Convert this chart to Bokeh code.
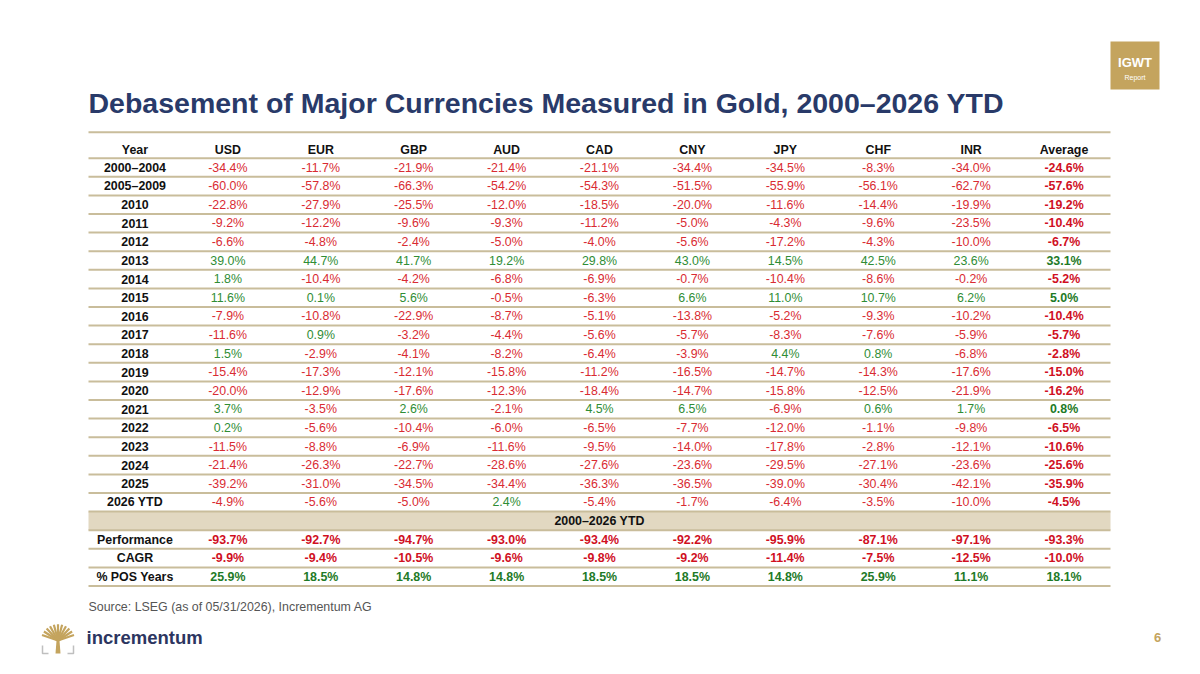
import math
from bokeh.plotting import figure
from bokeh.models import Range1d, ColumnDataSource
from bokeh.core.properties import value
from bokeh.embed import file_html
from bokeh.resources import INLINE

# ---------------- data ----------------
title_text = "Debasement of Major Currencies Measured in Gold, 2000–2026 YTD"
source_text = "Source: LSEG (as of 05/31/2026), Incrementum AG"
columns = ["Year", "USD", "EUR", "GBP", "AUD", "CAD", "CNY", "JPY", "CHF", "INR", "Average"]
row_labels = ["2000–2004", "2005–2009", "2010", "2011", "2012", "2013", "2014", "2015",
              "2016", "2017", "2018", "2019", "2020", "2021", "2022", "2023", "2024",
              "2025", "2026 YTD"]
usd = [-34.4, -60.0, -22.8, -9.2, -6.6, 39.0, 1.8, 11.6, -7.9, -11.6, 1.5, -15.4, -20.0, 3.7, 0.2, -11.5, -21.4, -39.2, -4.9]
eur = [-11.7, -57.8, -27.9, -12.2, -4.8, 44.7, -10.4, 0.1, -10.8, 0.9, -2.9, -17.3, -12.9, -3.5, -5.6, -8.8, -26.3, -31.0, -5.6]
gbp = [-21.9, -66.3, -25.5, -9.6, -2.4, 41.7, -4.2, 5.6, -22.9, -3.2, -4.1, -12.1, -17.6, 2.6, -10.4, -6.9, -22.7, -34.5, -5.0]
aud = [-21.4, -54.2, -12.0, -9.3, -5.0, 19.2, -6.8, -0.5, -8.7, -4.4, -8.2, -15.8, -12.3, -2.1, -6.0, -11.6, -28.6, -34.4, 2.4]
cad = [-21.1, -54.3, -18.5, -11.2, -4.0, 29.8, -6.9, -6.3, -5.1, -5.6, -6.4, -11.2, -18.4, 4.5, -6.5, -9.5, -27.6, -36.3, -5.4]
cny = [-34.4, -51.5, -20.0, -5.0, -5.6, 43.0, -0.7, 6.6, -13.8, -5.7, -3.9, -16.5, -14.7, 6.5, -7.7, -14.0, -23.6, -36.5, -1.7]
jpy = [-34.5, -55.9, -11.6, -4.3, -17.2, 14.5, -10.4, 11.0, -5.2, -8.3, 4.4, -14.7, -15.8, -6.9, -12.0, -17.8, -29.5, -39.0, -6.4]
chf = [-8.3, -56.1, -14.4, -9.6, -4.3, 42.5, -8.6, 10.7, -9.3, -7.6, 0.8, -14.3, -12.5, 0.6, -1.1, -2.8, -27.1, -30.4, -3.5]
inr = [-34.0, -62.7, -19.9, -23.5, -10.0, 23.6, -0.2, 6.2, -10.2, -5.9, -6.8, -17.6, -21.9, 1.7, -9.8, -12.1, -23.6, -42.1, -10.0]
average = [-24.6, -57.6, -19.2, -10.4, -6.7, 33.1, -5.2, 5.0, -10.4, -5.7, -2.8, -15.0, -16.2, 0.8, -6.5, -10.6, -25.6, -35.9, -4.5]

summary_label = "2000–2026 YTD"
summary_rows = ["Performance", "CAGR", "% POS Years"]
performance = [-93.7, -92.7, -94.7, -93.0, -93.4, -92.2, -95.9, -87.1, -97.1, -93.3]
cagr = [-9.9, -9.4, -10.5, -9.6, -9.8, -9.2, -11.4, -7.5, -12.5, -10.0]
pos_years = [25.9, 18.5, 14.8, 14.8, 18.5, 18.5, 14.8, 25.9, 11.1, 18.1]

# ---------------- styles ----------------
FONT = "Liberation Sans"
NAVY = "#293a69"
GOLD = "#c4a45e"
RULE = "#c9bd9b"
BAND = "#e2d8c1"
RED = "#d92b32"
GREEN = "#2f8d35"
RED_B = "#d0101f"
GREEN_B = "#1e7a27"
FS = "12.4px"

W, H = 1184, 658
p = figure(width=W, height=H, x_range=Range1d(0, W), y_range=Range1d(H, 0),
           output_backend="svg", toolbar_location=None, min_border=0,
           x_axis_location=None, y_axis_location=None)
p.grid.visible = False
p.outline_line_color = None
p.background_fill_color = "white"
p.border_fill_color = "white"

# table geometry
TL, TR = 88.0, 1110.0
ncol = len(columns)
col_w = (TR - TL) / ncol
col_x = [TL + (j + 0.5) * col_w for j in range(ncol)]
T_TOP = 131.7
H_BOT = 157.7
RH = 18.6
n_rows = len(row_labels) + 1 + len(summary_rows)


def row_top(i):
    return H_BOT + i * RH


def row_mid(i):
    return H_BOT + (i + 0.5) * RH


# band for the summary header
band_i = len(row_labels)
p.quad(left=[TL], right=[TR], top=[row_top(band_i)], bottom=[row_top(band_i + 1)],
       fill_color=BAND, line_color=None)

# rules
rule_y = [T_TOP] + [row_top(i) for i in range(n_rows + 1)]
p.segment(x0=[TL] * len(rule_y), x1=[TR] * len(rule_y), y0=rule_y, y1=rule_y,
          line_color=RULE, line_width=2)

# header texts
p.text(x=col_x, y=[149.0] * ncol, text=columns, text_font=value(FONT), text_font_size=FS,
       text_font_style="bold", text_color="#111111", text_align="center", text_baseline="middle")

# body texts
series = [usd, eur, gbp, aud, cad, cny, jpy, chf, inr]
reg = dict(x=[], y=[], t=[], c=[])
bold = dict(x=[], y=[], t=[], c=[])
for i, lab in enumerate(row_labels):
    bold["x"].append(col_x[0]); bold["y"].append(row_mid(i)); bold["t"].append(lab); bold["c"].append("#111111")
    for j, s in enumerate(series):
        v = s[i]
        reg["x"].append(col_x[j + 1]); reg["y"].append(row_mid(i))
        reg["t"].append(f"{v:.1f}%"); reg["c"].append(RED if v < 0 else GREEN)
    v = average[i]
    bold["x"].append(col_x[-1]); bold["y"].append(row_mid(i))
    bold["t"].append(f"{v:.1f}%"); bold["c"].append(RED_B if v < 0 else GREEN_B)

# summary band label
bold["x"].append((TL + TR) / 2); bold["y"].append(row_mid(band_i))
bold["t"].append(summary_label); bold["c"].append("#111111")

for k, (lab, vals) in enumerate(zip(summary_rows, [performance, cagr, pos_years])):
    i = band_i + 1 + k
    bold["x"].append(col_x[0]); bold["y"].append(row_mid(i)); bold["t"].append(lab); bold["c"].append("#111111")
    for j, v in enumerate(vals):
        bold["x"].append(col_x[j + 1]); bold["y"].append(row_mid(i))
        bold["t"].append(f"{v:.1f}%"); bold["c"].append(RED_B if v < 0 else GREEN_B)

p.text(x="x", y="y", text="t", text_color="c", source=ColumnDataSource(reg),
       text_font=value(FONT), text_font_size=FS, text_align="center", text_baseline="middle")
p.text(x="x", y="y", text="t", text_color="c", source=ColumnDataSource(bold),
       text_font=value(FONT), text_font_size=FS, text_font_style="bold",
       text_align="center", text_baseline="middle")

# title
p.text(x=[88], y=[102], text=[title_text], text_font=value(FONT), text_font_size="28.5px",
       text_font_style="bold", text_color=NAVY, text_align="left", text_baseline="middle")

# source
p.text(x=[88], y=[606], text=[source_text], text_font=value(FONT), text_font_size=FS,
       text_color="#555555", text_align="left", text_baseline="middle")

# IGWT badge
p.quad(left=[1110], right=[1159], top=[41], bottom=[89], fill_color=GOLD, line_color=None)
p.text(x=[1134.5], y=[62], text=["IGWT"], text_font=value(FONT), text_font_size="13px",
       text_font_style="bold", text_color="white", text_align="center", text_baseline="middle")
p.text(x=[1134.5], y=[77], text=["Report"], text_font=value(FONT), text_font_size="7px",
       text_color="white", text_align="center", text_baseline="middle")

# page number
p.text(x=[1157], y=[637], text=["6"], text_font=value(FONT), text_font_size="13px",
       text_font_style="bold", text_color=GOLD, text_align="center", text_baseline="middle")

# logo: stylised tree
cx, base_y = 57.5, 653.0
p.patch(x=[55.0, 60.0, 58.5, 56.5], y=[base_y, base_y, 634, 634], fill_color=GOLD, line_color=None)
bx, by = [], []
nb = 11
for k in range(nb):
    ang = math.radians(160 - k * (140 / (nb - 1)))
    r = 17
    bx.append([cx, cx + r * math.cos(ang)])
    by.append([640, 640 - r * math.sin(ang) * 0.95])
p.multi_line(xs=bx, ys=by, line_color=GOLD, line_width=2.2)
p.multi_line(xs=[[42, 42, 48], [73, 73, 67]], ys=[[645, 653, 653], [645, 653, 653]],
             line_color="#bfbfbf", line_width=1.5)
p.text(x=[86], y=[637], text=["incrementum"], text_font=value(FONT), text_font_size="18.5px",
       text_font_style="bold", text_color="#2c3560", text_align="left", text_baseline="middle")

open("out.html", "w").write(file_html(p, INLINE))
